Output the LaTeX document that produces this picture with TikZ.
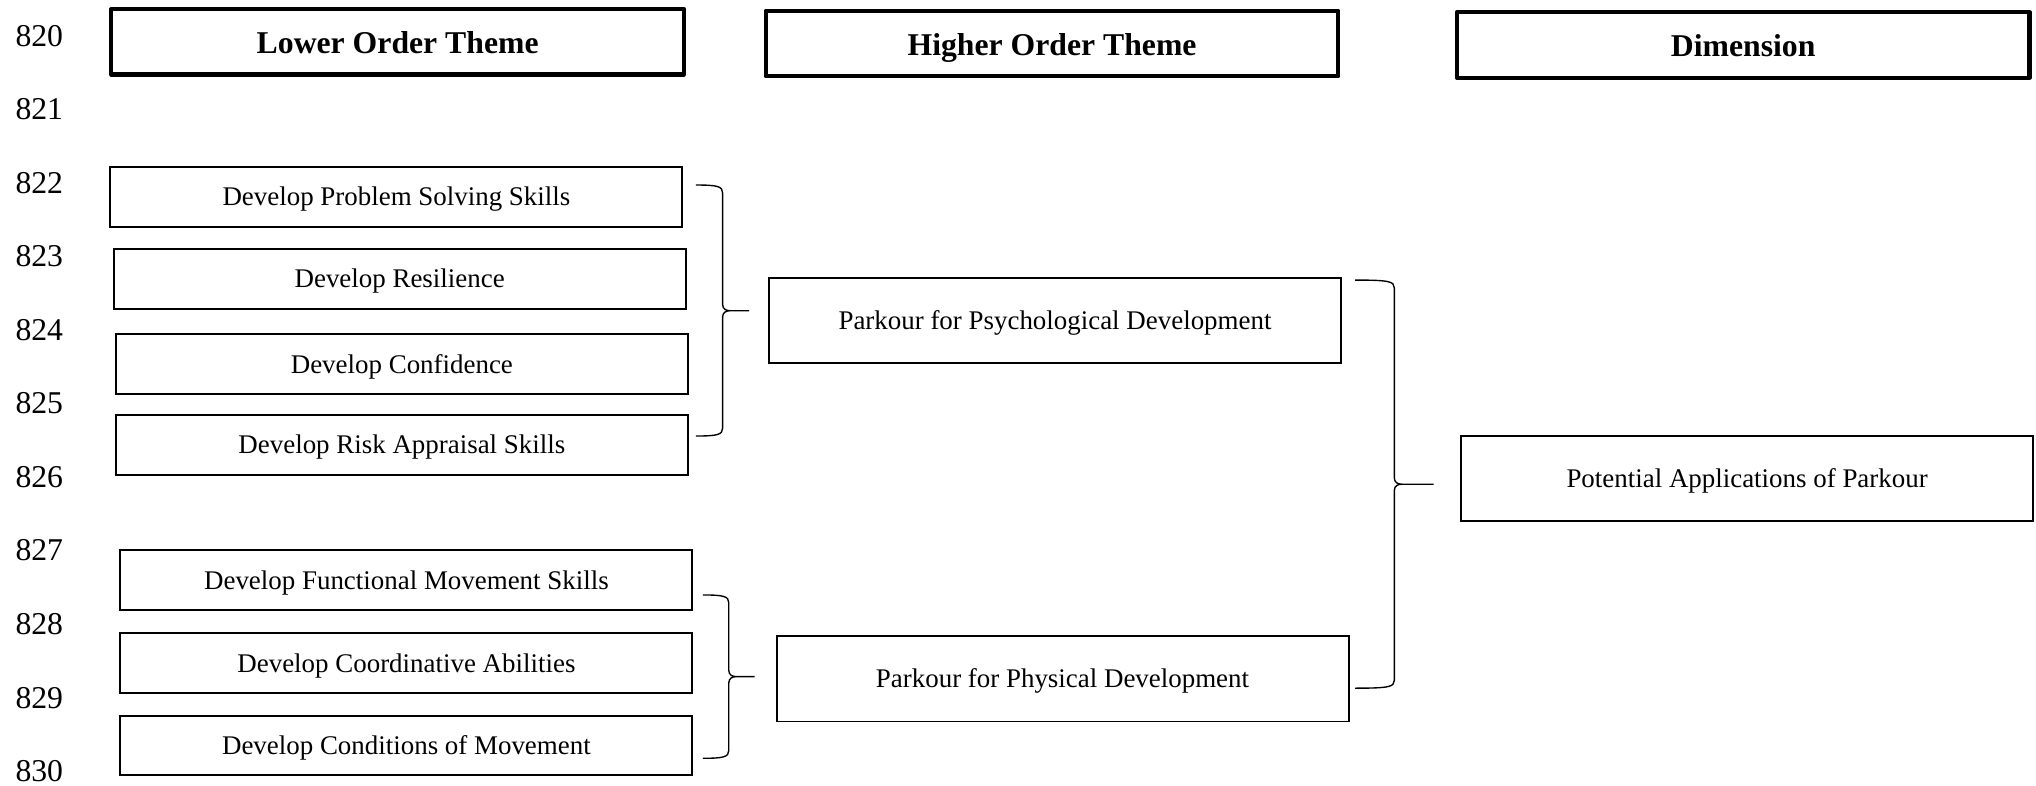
\documentclass[tikz,border=0pt]{standalone}
\usepackage{fontspec}
\setmainfont{Liberation Serif}
\usetikzlibrary{calc}

\tikzset{
  headbox/.style={draw, line width=1.8pt, line join=round, minimum width=8.82cm, minimum height=1.01cm, inner sep=0pt, text height=10pt, text depth=0pt, font=\bfseries\fontsize{13.9}{16}\selectfont},
  themebox/.style={draw, line width=0.85pt, minimum width=8.81cm, minimum height=0.92cm, inner sep=0pt, text height=8.5pt, text depth=0.6pt, font=\fontsize{11.8}{14}\selectfont},
  bigbox/.style={themebox, minimum height=1.31cm},
  lineno/.style={anchor=west, inner sep=0pt, font=\fontsize{13.9}{16}\selectfont},
  bracestyle/.style={line width=0.6pt},
}

% right brace: #1 top end, #2 bottom end, #3 tip
\newcommand{\drawbrace}[3]{%
  \draw[bracestyle] let \p1=(#1), \p2=(#2), \p3=(#3), \p4=($(#1)!0.5!(#3)$) in
    (\p1) .. controls (\x4-2.3pt,\y1) and (\x4,\y1-0.6pt) .. (\x4,\y1-3.4pt)
    -- (\x4,\y3+2.8pt) .. controls (\x4,\y3+0.6pt) and (\x4+1.7pt,\y3) .. (\x4+3.4pt,\y3)
    -- (\p3)
    (\x4+3.4pt,\y3) .. controls (\x4+1.7pt,\y3) and (\x4,\y3-0.6pt) .. (\x4,\y3-2.8pt)
    -- (\x4,\y2+3.4pt) .. controls (\x4,\y2+0.6pt) and (\x4-2.3pt,\y2) .. (\p2);
}

\begin{document}
\begin{tikzpicture}
        \useasboundingbox (0,0) rectangle (31.36,12.10);

        % line numbers
        \foreach \k in {0,...,10}{
            \pgfmathtruncatemacro{\lnum}{820+\k}
            \node[lineno] (ln\lnum) at (0.232,{11.548-1.1326*\k}) {\lnum};
        }

        % headers
        \node[headbox] (hLow) at (6.125,11.458) {Lower Order Theme};
        \node[headbox] (hHigh) at (16.204,11.428) {Higher Order Theme};
        \node[headbox] (hDim) at (26.85,11.408) {Dimension};

        % lower order themes
        \node[themebox] (lPS) at (6.106,9.07) {Develop Problem Solving Skills};
        \node[themebox] (lRes) at (6.156,7.806) {Develop Resilience};
        \node[themebox] (lConf) at (6.19,6.49) {Develop Confidence};
        \node[themebox] (lRisk) at (6.19,5.248) {Develop Risk Appraisal Skills};
        \node[themebox] (lFun) at (6.26,3.164) {Develop Functional Movement Skills};
        \node[themebox] (lCoord) at (6.26,1.884) {Develop Coordinative Abilities};
        \node[themebox] (lCond) at (6.26,0.616) {Develop Conditions of Movement};

        % higher order themes
        \node[bigbox] (mPsy) at (16.25,7.162) {Parkour for Psychological Development};
        \node[bigbox] (mPhy) at (16.366,1.642) {Parkour for Physical Development};

        % dimension
        \node[bigbox] (dPot) at (26.91,4.728) {Potential Applications of Parkour};

        % brace ends
        \coordinate (psyTop) at (10.72,9.25);
        \coordinate (psyBot) at (10.72,5.384);
        \coordinate (psyTip) at (11.54,7.314);
        \coordinate (phyTop) at (10.826,2.936);
        \coordinate (phyBot) at (10.826,0.42);
        \coordinate (phyTip) at (11.624,1.678);
        \coordinate (dimTop) at (20.872,7.786);
        \coordinate (dimBot) at (20.872,1.50);
        \coordinate (dimTip) at (22.08,4.642);

        \drawbrace{psyTop}{psyBot}{psyTip}
        \drawbrace{phyTop}{phyBot}{phyTip}
        \drawbrace{dimTop}{dimBot}{dimTip}
    \end{tikzpicture}
\end{document}
